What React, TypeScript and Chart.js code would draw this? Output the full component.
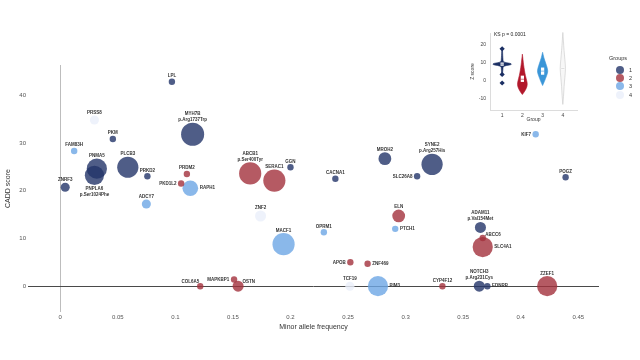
import React, { useEffect, useRef } from "react";
import { Chart, registerables } from "chart.js";
Chart.register(...registerables);

// ---------------- main bubble chart data ----------------
const genes = [
  "LPL", "PKM", "PNMA5", "PNPLA6", "PLCB3", "PRKD2", "ZNRF3", "MYH7B", "GGN", "CACNA1",
  "MROH2", "SYNE2", "SLC26A8", "POGZ", "ADAM11", "NOTCH3", "EDNRB",
  "PRDM2", "PKD1L2", "ABCB1", "SERAC1", "ELN", "ABCC6", "SLC4A1", "APOB", "ZNF469",
  "COL6A5", "MAPKBP1", "OSTN", "CYP4F12", "ZZEF1",
  "FAM83H", "RAPH1", "ADCY7", "KIF7", "PTCH1", "MACF1", "OPRM1", "PIM3",
  "PRSS8", "ZNF2", "TCF19",
];
const variantNotes = [
  "", "", "", "p.Ser1024Phe", "", "", "", "p.Arg1737Trp", "", "",
  "", "p.Arg257His", "", "", "p.Val154Met", "p.Arg231Cys", "",
  "", "", "p.Ser400Tyr", "", "", "", "", "", "",
  "", "", "", "", "",
  "", "", "", "", "", "", "", "",
  "", "", "",
];
const maf = [
  0.097, 0.0457, 0.0318, 0.0297, 0.0587, 0.0757, 0.0043, 0.115, 0.2, 0.239,
  0.282, 0.323, 0.31, 0.439, 0.365, 0.364, 0.371,
  0.11, 0.105, 0.165, 0.186, 0.294, 0.367, 0.367, 0.252, 0.267,
  0.1216, 0.151, 0.1545, 0.332, 0.423,
  0.0121, 0.113, 0.0748, 0.413, 0.291, 0.194, 0.229, 0.276,
  0.0297, 0.174, 0.2516,
];
const caddScore = [
  42.8, 30.8, 24.6, 23.2, 24.9, 23.0, 20.7, 31.8, 24.9, 22.5,
  26.7, 25.5, 23.0, 22.8, 12.3, 0, 0,
  23.5, 21.5, 23.6, 22.1, 14.7, 10.1, 8.2, 5.0, 4.7,
  0, 1.4, 0, 0, 0,
  28.3, 20.5, 17.2, 31.8, 12.0, 8.8, 11.3, 0,
  34.8, 14.7, 0,
];
const carriers = [
  1, 1, 10, 9, 11, 1, 2, 13, 1, 1,
  4, 11, 1, 1, 3, 3, 1,
  1, 1, 12, 12, 4, 1, 10, 1, 1,
  1, 1, 3, 1, 10,
  1, 6, 2, 1, 1, 12, 1, 10,
  2, 3, 2,
];
const groupOf = [
  1, 1, 1, 1, 1, 1, 1, 1, 1, 1,
  1, 1, 1, 1, 1, 1, 1,
  2, 2, 2, 2, 2, 2, 2, 2, 2,
  2, 2, 2, 2, 2,
  3, 3, 3, 3, 3, 3, 3, 3,
  4, 4, 4,
];
// where each gene label sits relative to its bubble: a=above, l=left, r=right, b=below, al/ar=above-left/right
const labelSide = [
  "a", "a", "a", "b", "a", "a", "a", "a", "a", "a",
  "a", "a", "l", "a", "a", "a", "r",
  "a", "l", "a", "a", "a", "ar", "r", "l", "r",
  "al", "l", "ar", "a", "a",
  "a", "r", "a", "l", "r", "a", "a", "r",
  "a", "a", "a",
];

const groupNames = ["1", "2", "3", "4"];
const groupColors = [
  "rgba(35,52,105,0.8)",
  "rgba(162,49,60,0.8)",
  "rgba(109,166,229,0.8)",
  "rgba(234,239,250,0.8)",
];
const xTicks = [0, 0.05, 0.1, 0.15, 0.2, 0.25, 0.3, 0.35, 0.4, 0.45];
const yTicks = [0, 10, 20, 30, 40];

// ---------------- inset violin data ----------------
const insetTitle = "KS p = 0.0001";
const violinX = [1, 2, 3, 4];
const violinY = [
  [3, 5, 7, 8.4, 8.9, 9.4, 9.9, 10.4, 12, 14, 17, 18],
  [-7.5, -6, -4, -2, 0, 3, 6, 9, 12, 15],
  [-2.5, 0, 3, 5, 7, 10, 13, 16],
  [-13, -8, -3, 2, 7, 12, 17, 22, 27],
];
const violinW = [
  [0, 0.03, 0.04, 0.06, 0.4, 0.48, 0.4, 0.06, 0.04, 0.03, 0.02, 0],
  [0, 0.1, 0.2, 0.25, 0.22, 0.15, 0.1, 0.06, 0.03, 0],
  [0, 0.1, 0.2, 0.26, 0.24, 0.15, 0.06, 0],
  [0, 0.04, 0.06, 0.1, 0.14, 0.1, 0.06, 0.03, 0],
];
const boxLow = [8.5, -0.5, 3.5, 6.5];
const boxHigh = [10.3, 3, 7.5, 7.5];
const boxMedian = [9.4, 1, 5.5, 7];
const violinColors = ["#1b2f63", "#b2182b", "#3a96d8", "#f7f7f7"];
const violinBorders = ["#1b2f63", "#b2182b", "#3a96d8", "#c8c8c8"];
const outlierX = [1, 1, 1];
const outlierY = [17.9, 3.7, -1.1];
const insetYTicks = [-10, 0, 10, 20];
const insetXTicks = [1, 2, 3, 4];

const FONT = "'Liberation Sans', Arial, sans-serif";

const labelPlugin = {
  id: "geneLabels",
  afterDatasetsDraw(chart: any) {
    const ctx = chart.ctx;
    ctx.save();
    ctx.fillStyle = "#333";
    ctx.font = `bold 4.5px ${FONT}`;
    chart.data.datasets.forEach((ds: any, di: number) => {
      const meta = chart.getDatasetMeta(di);
      meta.data.forEach((el: any, j: number) => {
        const idx = ds.data[j].idx;
        const r = ds.data[j].r;
        const side = labelSide[idx];
        const name = genes[idx];
        const note = variantNotes[idx];
        const lines = note ? [name, note] : [name];
        const px = el.x;
        const py = el.y;
        if (side === "a") {
          ctx.textAlign = "center";
          ctx.textBaseline = "alphabetic";
          let base = py - r - 1.5;
          for (let k = lines.length - 1; k >= 0; k--) {
            ctx.fillText(lines[k], px, base);
            base -= 6;
          }
        } else if (side === "b") {
          ctx.textAlign = "center";
          ctx.textBaseline = "top";
          let top = py + r + 1.5;
          lines.forEach((t) => {
            ctx.fillText(t, px, top);
            top += 6;
          });
        } else if (side === "l") {
          ctx.textAlign = "right";
          ctx.textBaseline = "middle";
          ctx.fillText(name, px - r - 1.5, py);
        } else if (side === "r") {
          ctx.textAlign = "left";
          ctx.textBaseline = "middle";
          ctx.fillText(name, px + r + 1.5, py);
        } else if (side === "ar") {
          ctx.textAlign = "left";
          ctx.textBaseline = "alphabetic";
          ctx.fillText(name, px + r * 0.8, py - r * 0.6);
        } else if (side === "al") {
          ctx.textAlign = "right";
          ctx.textBaseline = "alphabetic";
          ctx.fillText(name, px - 1, py - r - 0.5);
        }
      });
    });
    ctx.restore();
  },
};

const violinPlugin = {
  id: "violins",
  beforeDatasetsDraw(chart: any) {
    const ctx = chart.ctx;
    const xs = chart.scales.x;
    const ys = chart.scales.y;
    ctx.save();
    violinX.forEach((gx, g) => {
      const yv = violinY[g];
      const wv = violinW[g];
      const right = yv.map((y, k) => [xs.getPixelForValue(gx + wv[k]), ys.getPixelForValue(y)]);
      const left = yv.map((y, k) => [xs.getPixelForValue(gx - wv[k]), ys.getPixelForValue(y)]).reverse();
      const pts = right.concat(left);
      ctx.beginPath();
      ctx.moveTo(pts[0][0], pts[0][1]);
      for (let k = 1; k < pts.length - 1; k++) {
        const mx = (pts[k][0] + pts[k + 1][0]) / 2;
        const my = (pts[k][1] + pts[k + 1][1]) / 2;
        ctx.quadraticCurveTo(pts[k][0], pts[k][1], mx, my);
      }
      ctx.lineTo(pts[pts.length - 1][0], pts[pts.length - 1][1]);
      ctx.closePath();
      ctx.fillStyle = violinColors[g];
      ctx.fill();
      ctx.strokeStyle = violinBorders[g];
      ctx.lineWidth = 0.6;
      ctx.stroke();
      // box
      const bx0 = xs.getPixelForValue(gx - 0.08);
      const bx1 = xs.getPixelForValue(gx + 0.08);
      const by0 = ys.getPixelForValue(boxHigh[g]);
      const by1 = ys.getPixelForValue(boxLow[g]);
      ctx.fillStyle = "#ffffff";
      ctx.fillRect(bx0, by0, bx1 - bx0, by1 - by0);
      const my = ys.getPixelForValue(boxMedian[g]);
      ctx.beginPath();
      ctx.moveTo(bx0, my);
      ctx.lineTo(bx1, my);
      ctx.strokeStyle = violinBorders[g];
      ctx.lineWidth = 0.6;
      ctx.stroke();
    });
    ctx.restore();
  },
  afterDraw(chart: any) {
    const ctx = chart.ctx;
    ctx.save();
    ctx.fillStyle = "#222";
    ctx.font = `5px ${FONT}`;
    ctx.textAlign = "left";
    ctx.textBaseline = "middle";
    ctx.fillText(insetTitle, chart.chartArea.left + 4, chart.chartArea.top + 2);
    ctx.restore();
  },
};

export default function App() {
  const mainRef = useRef<HTMLCanvasElement>(null);
  const insetRef = useRef<HTMLCanvasElement>(null);

  useEffect(() => {
    const datasets = groupNames.map((gname, g) => {
      const data: any[] = [];
      genes.forEach((_, i) => {
        if (groupOf[i] === g + 1) {
          data.push({ x: maf[i], y: caddScore[i], r: 3.2 * Math.sqrt(carriers[i]), idx: i });
        }
      });
      return {
        label: gname,
        data,
        backgroundColor: groupColors[g],
        borderWidth: 0,
      };
    });

    const main = new Chart(mainRef.current!, {
      type: "bubble",
      data: { datasets },
      options: {
        responsive: false,
        animation: false,
        layout: { padding: { left: 0, top: 65, right: 41, bottom: 28.8 } },
        plugins: { legend: { display: false }, tooltip: { enabled: false } },
        scales: {
          x: {
            type: "linear",
            min: -0.028,
            max: 0.468,
            afterBuildTicks: (s: any) => {
              s.ticks = xTicks.map((v) => ({ value: v }));
            },
            afterFit: (s: any) => {
              s.height = 19.2;
            },
            ticks: {
              padding: 2,
              color: "#555",
              font: { size: 6, family: FONT },
              callback: (v: any) => String(v),
              maxRotation: 0,
              autoSkip: false,
            },
            grid: {
              drawTicks: false,
              color: (c: any) => (c.tick && c.tick.value === 0 ? "#bdbdbd" : "rgba(0,0,0,0)"),
              lineWidth: 1,
            },
            border: { display: false },
            title: {
              display: true,
              text: "Minor allele frequency",
              color: "#333",
              font: { size: 7, family: FONT },
              padding: { top: 0, bottom: 0 },
            },
          },
          y: {
            type: "linear",
            min: -5.4,
            max: 46.3,
            afterBuildTicks: (s: any) => {
              s.ticks = yTicks.map((v) => ({ value: v }));
            },
            afterFit: (s: any) => {
              s.width = 28;
            },
            ticks: {
              padding: 2,
              color: "#555",
              font: { size: 6, family: FONT },
              callback: (v: any) => String(v),
              autoSkip: false,
            },
            grid: {
              drawTicks: false,
              color: (c: any) => (c.tick && c.tick.value === 0 ? "#4a4a4a" : "rgba(0,0,0,0)"),
              lineWidth: 1,
            },
            border: { display: false },
            title: {
              display: true,
              text: "CADD score",
              color: "#333",
              font: { size: 7, family: FONT },
              padding: { top: 4, bottom: 0 },
            },
          },
        },
      },
      plugins: [labelPlugin],
    } as any);

    const inset = new Chart(insetRef.current!, {
      type: "scatter",
      data: {
        datasets: [
          {
            data: outlierX.map((x, i) => ({ x, y: outlierY[i] })),
            pointStyle: "rectRot",
            radius: 2.6,
            backgroundColor: violinColors[0],
            borderWidth: 0,
          },
        ],
      },
      options: {
        responsive: false,
        animation: false,
        layout: { padding: { left: 0, top: 8, right: 8, bottom: 0 } },
        plugins: { legend: { display: false }, tooltip: { enabled: false } },
        scales: {
          x: {
            type: "linear",
            min: 0.4,
            max: 4.7,
            afterBuildTicks: (s: any) => {
              s.ticks = insetXTicks.map((v) => ({ value: v }));
            },
            afterFit: (s: any) => {
              s.height = 15;
            },
            ticks: { padding: 2.5, color: "#444", font: { size: 5, family: FONT }, autoSkip: false },
            grid: { display: false, drawTicks: false },
            border: { display: true, color: "#dcdcdc", width: 1 },
            title: {
              display: true,
              text: "Group",
              color: "#333",
              font: { size: 5, family: FONT },
              padding: { top: 0, bottom: 2 },
            },
          },
          y: {
            type: "linear",
            min: -16.1,
            max: 26.7,
            afterBuildTicks: (s: any) => {
              s.ticks = insetYTicks.map((v) => ({ value: v }));
            },
            afterFit: (s: any) => {
              s.width = 35;
            },
            ticks: { padding: 4, color: "#444", font: { size: 5, family: FONT }, autoSkip: false },
            grid: { display: false, drawTicks: false },
            border: { display: true, color: "#dcdcdc", width: 1 },
            title: {
              display: true,
              text: "Z score",
              color: "#333",
              font: { size: 5, family: FONT },
              padding: { top: 15, bottom: 0 },
            },
          },
        },
      },
      plugins: [violinPlugin],
    } as any);

    return () => {
      main.destroy();
      inset.destroy();
    };
  }, []);

  return (
    <div
      style={{
        position: "fixed",
        left: 0,
        top: 0,
        width: 640,
        height: 360,
        background: "#ffffff",
        overflow: "hidden",
        fontFamily: FONT,
      }}
    >
      <canvas ref={mainRef} width={640} height={360} style={{ position: "absolute", left: 0, top: 0 }} />
      <canvas ref={insetRef} width={130} height={100} style={{ position: "absolute", left: 455, top: 25 }} />
      <div style={{ position: "absolute", left: 602, top: 54, width: 32, fontSize: 5.5, color: "#333" }}>
        <div style={{ textAlign: "center", height: 12, lineHeight: "8px" }}>Groups</div>
        {groupNames.map((g, i) => (
          <div key={g} style={{ display: "flex", alignItems: "center", height: 8.2 }}>
            <span
              style={{
                display: "inline-block",
                width: 8,
                height: 8,
                borderRadius: "50%",
                background: groupColors[i],
                marginLeft: 14,
                marginRight: 5,
              }}
            />
            <span>{g}</span>
          </div>
        ))}
      </div>
    </div>
  );
}
